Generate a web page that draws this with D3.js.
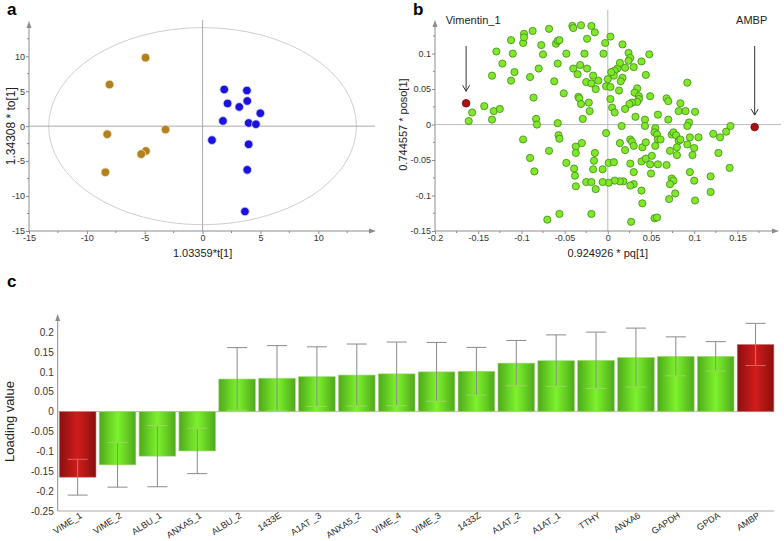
<!DOCTYPE html>
<html><head><meta charset="utf-8">
<script src="https://cdn.jsdelivr.net/npm/d3@7"></script>
<style>body{margin:0;background:#fff} svg{display:block;font-family:Arial,"Liberation Sans",sans-serif}</style>
</head><body><svg id="chart" width="784" height="541"></svg>
<script>
// ---------- Panel a: scores ----------
const scoreGoldX = [-4.93,-8.04,-8.24,-3.2,-4.9,-5.3,-8.4];
const scoreGoldY = [9.8,5.95,-1.15,-0.48,-3.55,-4.0,-6.6];
const scoreBlueX = [1.87,3.83,3.86,2.16,3.17,4.99,1.76,3.98,4.61,0.81,3.98,3.86,3.66];
const scoreBlueY = [5.25,5.1,3.6,3.25,2.75,1.85,0.75,0.45,0.28,-2.0,-2.6,-6.25,-12.2];
const ticksA = [-15,-10,-5,0,5,10];
const ellipseR = [13.3, 14.1];

// ---------- Panel b: loadings ----------
const loadX = [-0.161,-0.157,-0.143,-0.134,-0.132,-0.125,-0.134,-0.129,-0.122,-0.112,-0.108,-0.112,-0.110,-0.098,-0.097,-0.097,-0.087,-0.090,-0.086,-0.083,-0.082,-0.080,-0.077,-0.075,-0.068,-0.062,-0.060,-0.058,-0.056,-0.058,-0.058,-0.057,-0.056,-0.051,-0.048,-0.041,-0.040,-0.040,-0.035,-0.034,-0.033,-0.031,-0.029,-0.032,-0.031,-0.027,-0.024,-0.024,-0.021,-0.022,-0.025,-0.098,-0.090,-0.085,-0.068,-0.048,-0.039,-0.038,-0.037,-0.037,-0.037,-0.030,-0.025,-0.070,-0.056,
-0.019,-0.015,-0.003,0.003,0.017,-0.005,0.024,0.026,0.024,0.039,0.048,0.044,0.030,0.020,0.011,0.014,0.008,0.007,0.004,0.000,-0.002,-0.011,-0.017,-0.019,-0.014,0.003,0.013,0.017,0.015,0.034,0.031,0.036,0.036,0.034,0.028,0.025,0.020,0.003,0.005,0.008,0.032,0.043,0.043,0.058,0.049,0.068,0.070,0.084,0.082,0.090,0.092,0.101,0.094,0.092,0.070,0.016,-0.002,0.026,0.028,0.030,0.014,0.020,0.040,0.044,0.055,0.054,0.057,0.058,0.061,0.055,0.074,0.076,0.079,0.082,0.084,0.080,0.072,0.080,0.095,0.105,0.100,0.098,0.092,0.122,0.130,0.137,0.142,0.128,0.141,0.119,0.095,0.100,0.074,0.076,0.072,0.078,0.071,0.101,0.119,0.054,0.057,0.027,0.039,0.040,0.030,0.026,0.018,0.014,0.008,0.001,-0.006,0.001,0.007,0.026,0.030,0.039,0.044,0.049,0.051,0.058,0.068,0.050,-0.015,-0.016,-0.017,-0.014,-0.019,-0.019,-0.006];
const loadY = [0.005,0.017,0.026,0.007,0.019,0.022,0.069,0.103,0.086,0.062,0.074,0.119,0.100,0.115,0.128,0.123,0.132,0.067,0.038,0.008,0.000,0.079,0.112,0.099,0.135,0.061,0.114,0.118,0.119,0.086,0.002,-0.015,-0.020,0.044,0.100,0.139,0.136,0.079,0.071,0.039,0.037,0.029,0.008,0.084,0.140,0.100,0.079,0.121,0.019,0.031,0.060,-0.021,-0.047,-0.066,-0.037,-0.054,-0.062,-0.072,-0.087,-0.031,-0.040,-0.026,-0.081,-0.134,-0.126,
0.139,0.130,0.115,0.124,0.113,0.100,0.101,0.094,0.090,0.089,0.099,0.070,0.081,0.080,0.079,0.087,0.076,0.069,0.074,0.064,0.054,0.062,0.069,0.058,0.050,0.053,0.048,0.066,0.061,0.051,0.045,0.040,0.036,0.032,0.031,0.029,0.022,0.036,0.024,0.017,0.011,0.007,-0.002,0.014,0.040,0.037,0.033,0.030,0.019,0.019,0.059,0.018,0.003,-0.002,0.007,-0.002,-0.012,-0.021,-0.024,-0.030,-0.026,-0.036,-0.032,-0.025,-0.005,-0.011,-0.014,-0.021,-0.021,-0.030,-0.014,-0.011,-0.015,-0.023,-0.021,-0.032,-0.037,-0.043,-0.018,-0.018,-0.033,-0.043,-0.028,-0.013,-0.018,-0.010,-0.002,-0.040,-0.061,-0.073,-0.067,-0.079,-0.076,-0.079,-0.084,-0.097,-0.105,-0.107,-0.095,-0.132,-0.131,-0.137,-0.093,-0.111,-0.084,-0.086,-0.080,-0.080,-0.079,-0.082,-0.063,-0.054,-0.053,-0.055,-0.067,-0.052,-0.048,-0.056,-0.044,-0.056,-0.057,-0.069,-0.040,-0.051,-0.063,-0.091,-0.081,-0.126,-0.081];
const highlightNames = ["Vimentin_1","AMBP"];
const highlightX = [-0.164, 0.170];
const highlightY = [0.030, -0.0035];
const ticksBX = [-0.2,-0.15,-0.1,-0.05,0,0.05,0.1,0.15];
const ticksBY = [-0.15,-0.1,-0.05,0,0.05,0.1];

// ---------- Panel c: loading values ----------
const barNames = ["VIME_1","VIME_2","ALBU_1","ANXA5_1","ALBU_2","1433E","A1AT _3","ANXA5_2","VIME_4","VIME_3","1433Z","A1AT_2","A1AT_1","TTHY","ANXA6","GAPDH","GPDA","AMBP"];
const barValues = [-0.165,-0.134,-0.112,-0.099,0.082,0.084,0.088,0.092,0.095,0.100,0.1015,0.122,0.128,0.129,0.136,0.139,0.139,0.169];
const barErrors = [0.045,0.056,0.077,0.057,0.079,0.082,0.075,0.078,0.080,0.074,0.060,0.057,0.065,0.071,0.074,0.049,0.037,0.053];
const barHighlight = ["VIME_1","AMBP"];
const ticksC = [0.2,0.15,0.1,0.05,0,-0.05,-0.1,-0.15,-0.2,-0.25];

const svg = d3.select("#chart");
const AX = "#8c8c8c", TXT = "#333";
const fmt = d => String(d);

const defs = svg.append("defs");
function grad(id, edge, mid){
  const g = defs.append("linearGradient").attr("id", id).attr("x1","0").attr("x2","1").attr("y1","0").attr("y2","0");
  g.append("stop").attr("offset","0%").attr("stop-color", edge);
  g.append("stop").attr("offset","50%").attr("stop-color", mid);
  g.append("stop").attr("offset","100%").attr("stop-color", edge);
}
grad("gGreen","#4fa81c","#7cf22c");
grad("gRed","#8a0f0f","#d11c1c");

function arrowUp(x, y){ svg.append("path").attr("d",`M${x},${y} L${x-2.5},${y+7} L${x+2.5},${y+7} Z`).attr("fill",AX); }
function arrowRight(x, y){ svg.append("path").attr("d",`M${x},${y} L${x-7},${y-2.5} L${x-7},${y+2.5} Z`).attr("fill",AX); }

function styleAxis(g){
  g.select(".domain").remove();
  g.selectAll(".tick line").attr("stroke",AX);
  g.selectAll(".tick text").attr("fill",TXT).attr("font-size","9px").attr("font-family","Arial, Liberation Sans, sans-serif");
}

function minorTicks(scale, vals, orient, pos){
  vals.forEach(v=>{
    if(orient==="x") svg.append("line").attr("x1",scale(v)).attr("x2",scale(v)).attr("y1",pos).attr("y2",pos+2).attr("stroke",AX);
    else svg.append("line").attr("y1",scale(v)).attr("y2",scale(v)).attr("x1",pos-2).attr("x2",pos).attr("stroke",AX);
  });
}

// ===== Panel a =====
const xA = d3.scaleLinear().domain([-15,14.9]).range([29,375]);
const yA = d3.scaleLinear().domain([-15,14.9]).range([231,22]);
svg.append("text").attr("x",7).attr("y",15).attr("font-size","17px").attr("font-weight","bold").text("a");
svg.append("ellipse").attr("cx",xA(0)).attr("cy",yA(0))
  .attr("rx",xA(ellipseR[0])-xA(0)).attr("ry",yA(0)-yA(ellipseR[1]))
  .attr("fill","none").attr("stroke","#cfcfcf").attr("stroke-width",1);
svg.append("line").attr("x1",xA(0)).attr("x2",xA(0)).attr("y1",20).attr("y2",yA(-15)).attr("stroke","#aaa");
svg.append("line").attr("x1",xA(-15)).attr("x2",xA(14.9)).attr("y1",yA(0)).attr("y2",yA(0)).attr("stroke","#aaa");
svg.append("line").attr("x1",xA(-15)).attr("x2",xA(-15)).attr("y1",yA(-15)).attr("y2",yA(14.9)+2).attr("stroke",AX);
svg.append("line").attr("x1",xA(-15)).attr("x2",xA(14.9)-2).attr("y1",yA(-15)).attr("y2",yA(-15)).attr("stroke",AX);
arrowUp(xA(-15), yA(14.9)-1); arrowRight(xA(14.9)+1, yA(-15));
styleAxis(svg.append("g").attr("transform",`translate(0,${yA(-15)})`).call(d3.axisBottom(xA).tickValues(ticksA).tickSize(3).tickPadding(1).tickFormat(fmt)));
styleAxis(svg.append("g").attr("transform",`translate(${xA(-15)},0)`).call(d3.axisLeft(yA).tickValues(ticksA).tickSize(3).tickPadding(1).tickFormat(fmt)));
minorTicks(xA, [-12.5,-7.5,-2.5,2.5,7.5,12.5], "x", yA(-15));
minorTicks(yA, [-12.5,-7.5,-2.5,2.5,7.5,12.5], "y", xA(-15));
svg.append("text").attr("x",xA(0)).attr("y",257).attr("text-anchor","middle").attr("font-size","11px").attr("fill","#222").text("1.03359*t[1]");
svg.append("text").attr("transform",`translate(15,${yA(0)}) rotate(-90)`).attr("text-anchor","middle").attr("font-size","12px").attr("fill","#222").text("1.34308 * to[1]");
svg.append("g").selectAll("circle").data(d3.range(scoreGoldX.length)).join("circle")
  .attr("cx",i=>xA(scoreGoldX[i])).attr("cy",i=>yA(scoreGoldY[i])).attr("r",4.3)
  .attr("fill","#b3801c").attr("stroke","#f0e6d0").attr("stroke-width",0.8);
svg.append("g").selectAll("circle").data(d3.range(scoreBlueX.length)).join("circle")
  .attr("cx",i=>xA(scoreBlueX[i])).attr("cy",i=>yA(scoreBlueY[i])).attr("r",4.3)
  .attr("fill","#1a12e0").attr("stroke","#dcdcf5").attr("stroke-width",0.8);

// ===== Panel b =====
const xB = d3.scaleLinear().domain([-0.2,0.197]).range([435,778]);
const yB = d3.scaleLinear().domain([-0.15,0.146]).range([231,21]);
svg.append("text").attr("x",413).attr("y",15).attr("font-size","17px").attr("font-weight","bold").text("b");
svg.append("line").attr("x1",xB(0)).attr("x2",xB(0)).attr("y1",10).attr("y2",yB(-0.15)).attr("stroke","#bbb");
svg.append("line").attr("x1",xB(-0.2)).attr("x2",781).attr("y1",yB(0)).attr("y2",yB(0)).attr("stroke","#bbb");
svg.append("line").attr("x1",xB(-0.2)).attr("x2",xB(-0.2)).attr("y1",yB(-0.15)).attr("y2",yB(0.146)+2).attr("stroke",AX);
svg.append("line").attr("x1",xB(-0.2)).attr("x2",xB(0.197)-2).attr("y1",yB(-0.15)).attr("y2",yB(-0.15)).attr("stroke",AX);
arrowUp(xB(-0.2), yB(0.146)-1); arrowRight(xB(0.197)+1, yB(-0.15));
styleAxis(svg.append("g").attr("transform",`translate(0,${yB(-0.15)})`).call(d3.axisBottom(xB).tickValues(ticksBX).tickSize(3).tickPadding(1).tickFormat(fmt)));
styleAxis(svg.append("g").attr("transform",`translate(${xB(-0.2)},0)`).call(d3.axisLeft(yB).tickValues(ticksBY).tickSize(3).tickPadding(1).tickFormat(fmt)));
minorTicks(xB, [-0.175,-0.125,-0.075,-0.025,0.025,0.075,0.125,0.175], "x", yB(-0.15));
minorTicks(yB, [-0.125,-0.075,-0.025,0.025,0.075,0.125], "y", xB(-0.2));
svg.append("text").attr("x",xB(0)).attr("y",257).attr("text-anchor","middle").attr("font-size","11px").attr("fill","#222").text("0.924926 * pq[1]");
svg.append("text").attr("transform",`translate(407,${yB(0)}) rotate(-90)`).attr("text-anchor","middle").attr("font-size","11px").attr("fill","#222").text("0.744557 * poso[1]");
svg.append("g").selectAll("circle").data(d3.range(loadX.length)).join("circle")
  .attr("cx",i=>xB(loadX[i])).attr("cy",i=>yB(loadY[i])).attr("r",3.6)
  .attr("fill","#7fe82a").attr("stroke","#3f8a12").attr("stroke-width",0.8);
highlightNames.forEach((n,i)=>{
  const cx = xB(highlightX[i]), cy = yB(highlightY[i]);
  svg.append("line").attr("x1",cx).attr("x2",cx).attr("y1",46).attr("y2",cy-12).attr("stroke","#333").attr("stroke-width",1);
  svg.append("path").attr("d",`M${cx-3.5},${cy-18} L${cx},${cy-12} L${cx+3.5},${cy-18}`).attr("fill","none").attr("stroke","#333").attr("stroke-width",1);
  svg.append("circle").attr("cx",cx).attr("cy",cy).attr("r",3.8).attr("fill","#a81212").attr("stroke","#6a0808").attr("stroke-width",0.8);
  svg.append("text").attr("x",cx + (i===0?7:-3)).attr("y",24).attr("text-anchor","middle").attr("font-size","11px").attr("fill","#222").text(n);
});

// ===== Panel c =====
const xC = d3.scaleBand().domain(barNames).range([57.7,775.5]).paddingInner(0.08).paddingOuter(0.04);
const yC = d3.scaleLinear().domain([-0.25,0.243]).range([511,315]);
svg.append("text").attr("x",7).attr("y",287).attr("font-size","17px").attr("font-weight","bold").text("c");
svg.append("line").attr("x1",57.7).attr("x2",57.7).attr("y1",yC(-0.25)).attr("y2",yC(0.243)+2).attr("stroke",AX);
arrowUp(57.7, yC(0.243)-1);
svg.append("line").attr("x1",57.7).attr("x2",774).attr("y1",yC(-0.25)).attr("y2",yC(-0.25)).attr("stroke","#aaa");
svg.append("line").attr("x1",57.7).attr("x2",774).attr("y1",yC(0)).attr("y2",yC(0)).attr("stroke","#bbb");
const gC = svg.append("g").attr("transform","translate(57.7,0)").call(d3.axisLeft(yC).tickValues(ticksC).tickSize(0).tickPadding(4).tickFormat(fmt));
styleAxis(gC);
gC.selectAll(".tick text").attr("font-size","10px");
svg.append("text").attr("transform",`translate(14,${yC(-0.025)}) rotate(-90)`).attr("text-anchor","middle").attr("font-size","13px").attr("fill","#222").text("Loading value");
barNames.forEach((n,i)=>{
  const v = barValues[i], e = barErrors[i];
  const x = xC(n), w = xC.bandwidth(), cx = x + w/2;
  const red = barHighlight.includes(n);
  svg.append("rect").attr("x",x).attr("width",w)
    .attr("y",yC(Math.max(0,v))).attr("height",Math.abs(yC(v)-yC(0)))
    .attr("fill",red?"url(#gRed)":"url(#gGreen)")
    .attr("stroke",red?"#c98080":"#a6dc7a").attr("stroke-width",0.6);
  const lo = v - e, hi = v + e;
  svg.append("line").attr("x1",cx).attr("x2",cx).attr("y1",yC(lo)).attr("y2",yC(hi)).attr("stroke","#8a8a8a").attr("stroke-width",1);
  [lo,hi].forEach(t=>{
    const inside = (v>0) ? t < v : t > v;
    svg.append("line").attr("x1",cx-10).attr("x2",cx+10).attr("y1",yC(t)).attr("y2",yC(t))
      .attr("stroke", inside ? (red?"#e06060":"#9ad85a") : "#8a8a8a").attr("stroke-width",1);
  });
  svg.append("text").attr("transform",`translate(${cx+5},${yC(-0.25)+6}) rotate(-33)`)
    .attr("text-anchor","end").attr("font-size","9px").attr("fill","#222").text(n);
});
</script></body></html>
